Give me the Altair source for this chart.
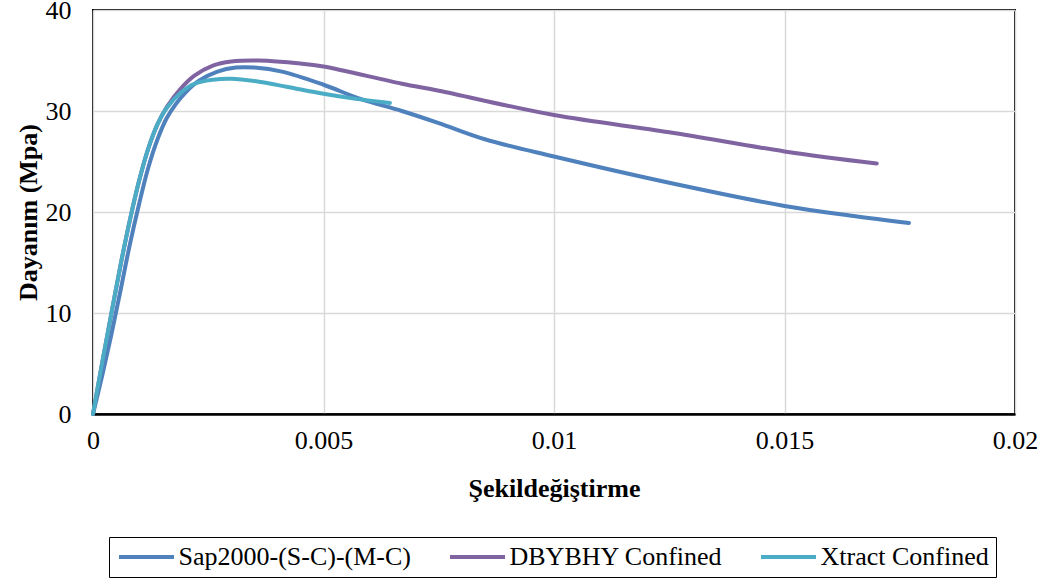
import altair as alt
import pandas as pd

# Stress–strain curves (strain, stress in MPa)
sap_strain = [0, 0.0002, 0.0004, 0.0006, 0.0008, 0.001, 0.0012, 0.0014, 0.0016, 0.0018,
              0.002, 0.0023, 0.0027, 0.0031, 0.0035, 0.0041, 0.005, 0.0058, 0.0067, 0.0075,
              0.0085, 0.01, 0.0125, 0.015, 0.0165, 0.0177]
sap_stress = [0, 3.8, 7.9, 12.3, 16.8, 20.8, 24.4, 27.2, 29.3, 30.7,
              31.8, 33.0, 33.9, 34.3, 34.3, 33.9, 32.6, 31.2, 30.0, 28.8,
              27.2, 25.5, 22.9, 20.6, 19.6, 18.9]

dby_strain = [0, 0.0002, 0.0004, 0.0006, 0.0008, 0.001, 0.0012, 0.0014, 0.0016, 0.0019,
              0.0022, 0.0026, 0.003, 0.0036, 0.0045, 0.005, 0.0067, 0.0075, 0.01, 0.0125,
              0.015, 0.017]
dby_stress = [0, 5.1, 10.0, 14.8, 19.2, 23.1, 26.3, 28.7, 30.4, 32.2,
              33.5, 34.5, 34.9, 35.0, 34.7, 34.4, 32.7, 32.0, 29.6, 27.9,
              26.0, 24.8]

xtr_strain = [0, 0.0002, 0.0004, 0.0006, 0.0008, 0.001, 0.0012, 0.0014, 0.0016, 0.0019,
              0.0022, 0.0026, 0.003, 0.0036, 0.0042, 0.005, 0.0057, 0.00644]
xtr_stress = [0, 5.1, 10.0, 14.8, 19.2, 23.1, 26.3, 28.7, 30.3, 31.8,
              32.7, 33.1, 33.2, 32.9, 32.4, 31.7, 31.2, 30.8]

series_names = ["Sap2000-(S-C)-(M-C)", "DBYBHY Confined", "Xtract Confined"]
series_colors = ["#4F81BD", "#8064A2", "#4BACC6"]

x_ticks = [0, 0.005, 0.01, 0.015, 0.02]
y_ticks = [0, 10, 20, 30, 40]

rows = []
for name, xs, ys in zip(series_names,
                        [sap_strain, dby_strain, xtr_strain],
                        [sap_stress, dby_stress, xtr_stress]):
    for i, (sx, sy) in enumerate(zip(xs, ys)):
        rows.append({"seri": name, "strain": sx, "stress": sy, "i": i})
df = pd.DataFrame(rows)

FONT = "Liberation Serif"

chart = alt.Chart(df).mark_line(strokeWidth=4, interpolate="catmull-rom", strokeCap="round").encode(
    x=alt.X("strain:Q",
            scale=alt.Scale(domain=[0, 0.02], nice=False),
            axis=alt.Axis(values=x_ticks, format="~g", title="Şekildeğiştirme",
                          labelFlush=False,
                          titleX=461, titleY=74, titleBaseline="middle")),
    y=alt.Y("stress:Q",
            scale=alt.Scale(domain=[0, 40], nice=False),
            axis=alt.Axis(values=y_ticks, title="Dayanım (Mpa)",
                          titleX=-65, titleY=202, titleAngle=-90, titleBaseline="middle")),
    color=alt.Color("seri:N",
                    scale=alt.Scale(domain=series_names, range=series_colors),
                    sort=series_names,
                    legend=alt.Legend(orient="none", legendX=16, legendY=527,
                                      direction="horizontal", title=None,
                                      symbolType="M-2.75,0H2.75", symbolStrokeWidth=4,
                                      symbolSize=400, symbolOffset=17.5,
                                      labelFont=FONT, labelFontSize=26,
                                      labelColor="black", labelOffset=19,
                                      columnPadding=30, padding=7,
                                      strokeColor="black", labelLimit=400)),
    order="i:Q",
).properties(
    width=922,
    height=404,
    autosize=alt.AutoSizeParams(type="none"),
    padding={"left": 93, "top": 10, "right": 36, "bottom": 169},
).configure_view(
    stroke="black", strokeWidth=2
).configure_axis(
    grid=True, gridColor="#D9D9D9", gridWidth=1.5,
    ticks=False, domain=False,
    labelFont=FONT, labelFontSize=26, labelColor="black",
    titleFont=FONT, titleFontSize=26, titleFontWeight="bold", titleColor="black",
).configure_axisX(
    labelPadding=13, domain=True, domainColor="black", domainWidth=2.5,
).configure_axisY(
    labelPadding=22,
)

chart.save("out.html", embed_options={"renderer": "svg", "actions": False})
